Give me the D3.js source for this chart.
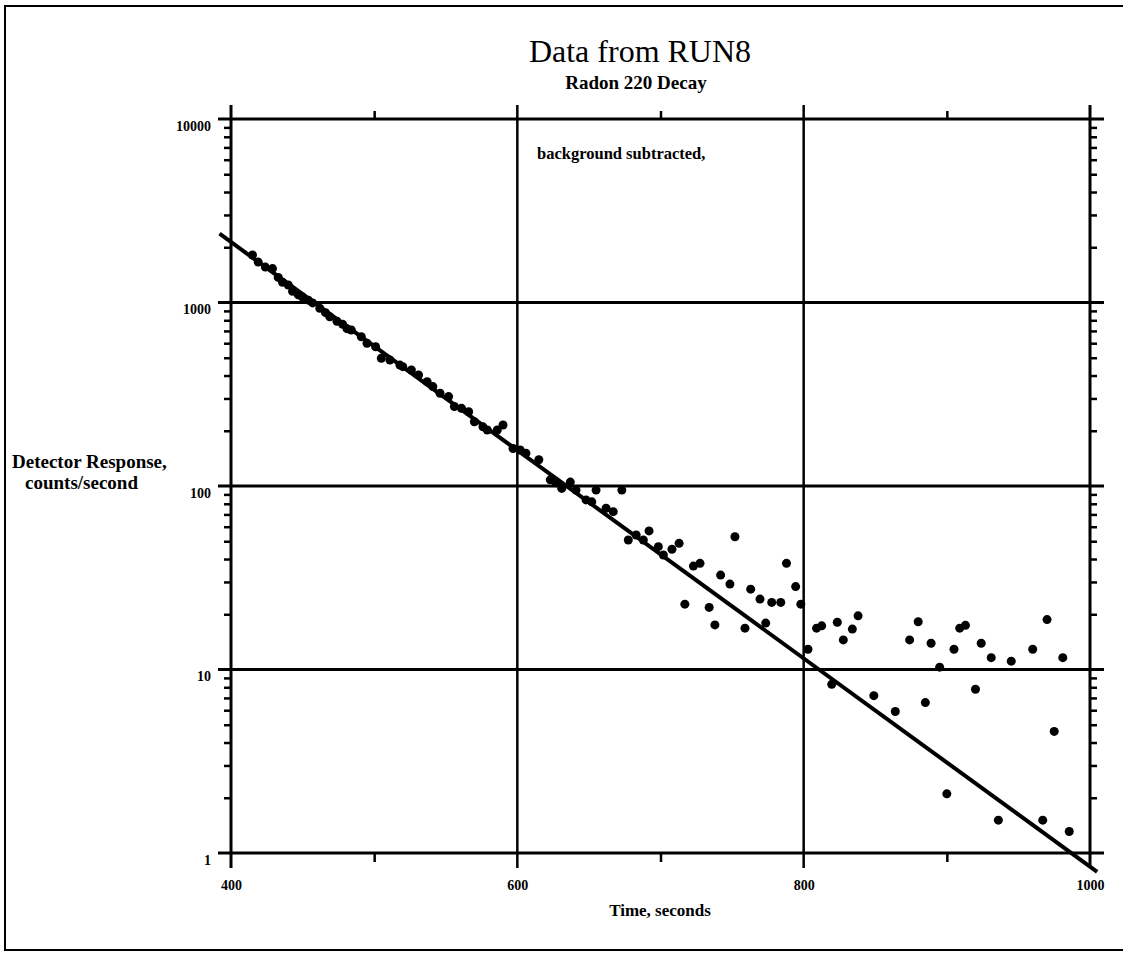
<!DOCTYPE html>
<html>
<head>
<meta charset="utf-8">
<script src="https://cdn.jsdelivr.net/npm/d3@7"></script>
<style>
  body { margin: 0; background: #fff; }
  text { fill: #000; }
</style>
</head>
<body>
<div id="chart"></div>
<script>
// measured run, background subtracted
var timeS = [415, 419, 424, 429, 433, 436, 440, 443, 447, 450, 454, 457, 462, 466, 469, 474, 478, 481,
  484, 491, 495, 501, 505, 511, 518, 520, 526, 531, 537, 541, 546, 552, 556, 561, 566, 570, 576, 579,
  586, 590, 597, 602, 606, 615, 623, 627, 631, 637, 641, 648, 652, 655, 662, 667, 673,
  677.5, 683, 688, 692, 698.5, 702, 708, 713, 717, 723, 727.6, 734, 738, 742, 748.5, 752, 759, 763,
  769.5, 773.5, 777.7, 784, 788, 794.4, 798, 803, 809, 812.6, 819.6, 823.5, 827.7, 834, 838, 849,
  864, 874, 880, 885, 889, 895, 900, 905, 909, 913, 920, 924, 931, 936, 945, 960, 967, 970, 975, 981, 985.5];
var counts = [1815, 1660, 1560, 1530, 1370, 1290, 1245, 1150, 1100, 1070, 1030, 995, 930, 880, 835, 790, 760, 720,
  708, 651, 600, 574, 497, 486, 456, 447, 429, 403, 370, 348, 320, 307, 271, 265, 254, 224, 210, 202,
  202, 215, 160, 157, 151, 139, 108, 104, 97, 105, 95, 84, 82, 95, 75.6, 72.5, 95,
  50.8, 54.1, 50.8, 56.9, 46.7, 42.1, 45.2, 48.7, 22.7, 36.6, 37.9, 21.8, 17.5, 32.7, 29.2, 52.9, 16.8, 27.4,
  24.2, 17.9, 23.2, 23.2, 37.9, 28.3, 22.7, 12.9, 16.8, 17.3, 8.3, 18.1, 14.5, 16.6, 19.6, 7.2,
  5.9, 14.5, 18.2, 6.6, 13.9, 10.3, 2.1, 12.9, 16.8, 17.4, 7.8, 13.9, 11.6, 1.51, 11.1, 12.9, 1.51, 18.7, 4.6, 11.6, 1.31];

// fitted decay line, two end points
var fitT = [392, 1005];
var fitC = [2370, 0.79];

var xTicks = [400, 600, 800, 1000];
var xMinor = [500, 700, 900];
var yTicks = [1, 10, 100, 1000, 10000];

var W = 1123, H = 959;
var m = { left: 231, right: 1090, top: 119, bottom: 853 };

var svg = d3.select("#chart").append("svg")
  .attr("width", W).attr("height", H);

svg.append("rect").attr("width", W).attr("height", H).attr("fill", "#fff");

// page frame
svg.append("rect")
  .attr("x", 5).attr("y", 6)
  .attr("width", W + 20).attr("height", 944)
  .attr("fill", "none").attr("stroke", "#000").attr("stroke-width", 2);

var x = d3.scaleLinear().domain([400, 1000]).range([m.left, m.right]);
var y = d3.scaleLog().domain([1, 10000]).range([m.bottom, m.top]);

var yMinor = y.ticks().filter(d => yTicks.indexOf(d) < 0);

var serif = "'Liberation Serif', 'Times New Roman', serif";

// horizontal grid, sticking out on both sides
svg.append("g").selectAll("line")
  .data(yTicks).enter().append("line")
  .attr("x1", m.left - 13).attr("x2", m.right + 14)
  .attr("y1", d => y(d)).attr("y2", d => y(d))
  .attr("stroke", "#000").attr("stroke-width", 3);

// vertical grid
svg.append("g").selectAll("line")
  .data(xTicks).enter().append("line")
  .attr("x1", d => x(d)).attr("x2", d => x(d))
  .attr("y1", m.top - 14).attr("y2", m.bottom + 15)
  .attr("stroke", "#000").attr("stroke-width", d => (d == 400 || d == 1000) ? 3 : 2.5);

// minor y ticks, outward on both sides
var yMinL = svg.append("g").attr("transform", `translate(${m.left},0)`)
  .call(d3.axisLeft(y).tickValues(yMinor).tickSize(7).tickFormat(""));
var yMinR = svg.append("g").attr("transform", `translate(${m.right},0)`)
  .call(d3.axisRight(y).tickValues(yMinor).tickSize(7).tickFormat(""));

// minor x ticks, top and bottom
var xMinT = svg.append("g").attr("transform", `translate(0,${m.top})`)
  .call(d3.axisTop(x).tickValues(xMinor).tickSize(8).tickFormat(""));
var xMinB = svg.append("g").attr("transform", `translate(0,${m.bottom})`)
  .call(d3.axisBottom(x).tickValues(xMinor).tickSize(9).tickFormat(""));

[yMinL, yMinR, xMinT, xMinB].forEach(g => {
  g.select(".domain").remove();
  g.selectAll("line").attr("stroke", "#000").attr("stroke-width", 2.5);
});

// tick labels
var yLab = svg.append("g").attr("transform", `translate(${m.left},0)`)
  .call(d3.axisLeft(y).tickValues(yTicks).tickSize(13).tickPadding(7).tickFormat(d3.format("d")));
var xLab = svg.append("g").attr("transform", `translate(0,${m.bottom})`)
  .call(d3.axisBottom(x).tickValues(xTicks).tickSize(15).tickPadding(12).tickFormat(d3.format("d")));

[yLab, xLab].forEach(g => {
  g.select(".domain").remove();
  g.selectAll("line").remove();
  g.selectAll("text")
    .attr("font-family", serif).attr("font-weight", "bold").attr("font-size", 14);
});
yLab.selectAll("text").attr("dy", "0.8em");

// fit line
var fit = fitT.map((t, i) => [t, fitC[i]]);
svg.append("path")
  .datum(fit)
  .attr("d", d3.line().x(d => x(d[0])).y(d => y(d[1])))
  .attr("fill", "none").attr("stroke", "#000").attr("stroke-width", 4);

// data points
svg.append("g").selectAll("circle")
  .data(timeS).enter().append("circle")
  .attr("cx", d => x(d))
  .attr("cy", (d, i) => y(counts[i]))
  .attr("r", 4.5)
  .attr("fill", "#000");

// texts
svg.append("text")
  .attr("x", 640).attr("y", 62)
  .attr("text-anchor", "middle")
  .attr("font-family", serif).attr("font-size", 32)
  .text("Data from RUN8");

svg.append("text")
  .attr("x", 636).attr("y", 89)
  .attr("text-anchor", "middle")
  .attr("font-family", serif).attr("font-weight", "bold").attr("font-size", 19)
  .text("Radon 220 Decay");

svg.append("text")
  .attr("x", 537).attr("y", 159)
  .attr("font-family", serif).attr("font-weight", "bold").attr("font-size", 16.5)
  .text("background subtracted,");

svg.append("text")
  .attr("x", 12).attr("y", 468)
  .attr("font-family", serif).attr("font-weight", "bold").attr("font-size", 19)
  .text("Detector Response,");

svg.append("text")
  .attr("x", 25).attr("y", 489)
  .attr("font-family", serif).attr("font-weight", "bold").attr("font-size", 19)
  .text("counts/second");

svg.append("text")
  .attr("x", 660).attr("y", 916)
  .attr("text-anchor", "middle")
  .attr("font-family", serif).attr("font-weight", "bold").attr("font-size", 17)
  .text("Time, seconds");
</script>
</body>
</html>
